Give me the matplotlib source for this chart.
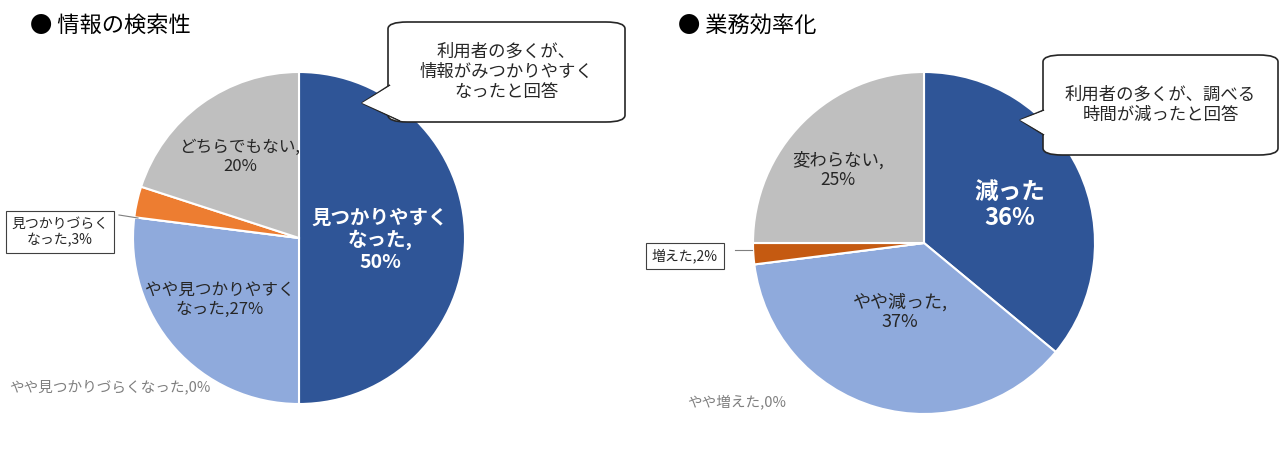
import matplotlib
matplotlib.use("Agg")
import matplotlib.pyplot as plt
from matplotlib.patches import Polygon, FancyBboxPatch

plt.rcParams["font.family"] = "Noto Sans CJK JP"

W, H = 1280, 457
left_labels = ["見つかりやすくなった", "やや見つかりやすくなった", "やや見つかりづらくなった", "見つかりづらくなった", "どちらでもない"]
left_values = [50, 27, 0, 3, 20]
right_labels = ["減った", "やや減った", "やや増えた", "増えた", "変わらない"]
right_values = [36, 37, 0, 2, 25]

left_colors = ["#2F5597", "#8FAADC", "#F4B183", "#ED7D31", "#BFBFBF"]
right_colors = ["#2F5597", "#8FAADC", "#F4B183", "#C55A11", "#BFBFBF"]

fig = plt.figure(figsize=(12.8, 4.57), dpi=100)

def px(x, y):
    return x / W, 1 - y / H

def pie_axes(cx, cy, r, vals, cols):
    ax = fig.add_axes([(cx - r) / W, (H - cy - r) / H, 2 * r / W, 2 * r / H])
    ax.pie(vals, colors=cols, startangle=90, counterclock=False,
           wedgeprops=dict(edgecolor="white", linewidth=1.5))
    ax.set_xlim(-1, 1); ax.set_ylim(-1, 1)
    ax.set_aspect("equal"); ax.axis("off")

pie_axes(299, 238, 166, left_values, left_colors)
pie_axes(924, 243, 171, right_values, right_colors)

def t(x, y, s, size=12, color="#262626", ha="center", weight="normal", **kw):
    fig.text(*px(x, y), s, fontsize=size, color=color, ha=ha, va="center",
             weight=weight, linespacing=1.15, **kw)

def callout(x0, y0, x1, y1, tail, text):
    box = FancyBboxPatch(px(x0, y1), (x1 - x0) / W, (y1 - y0) / H,
                         boxstyle="round,pad=0,rounding_size=0.015",
                         transform=fig.transFigure, fc="white", ec="#262626", lw=1.2)
    fig.add_artist(box)
    (a, b), tip, (c, d) = tail
    fig.add_artist(Polygon([px(a, b), px(*tip), px(c, d)], closed=False,
                           transform=fig.transFigure, fc="white", ec="#262626", lw=1.2, zorder=3))
    fig.add_artist(Polygon([px(a, b + 1), px(*tip), px(c, d - 1)], closed=True,
                           transform=fig.transFigure, fc="white", ec="none", zorder=3))
    t((x0 + x1) / 2, (y0 + y1) / 2, text, size=12.5, zorder=4)

# Left chart
t(30, 25, "● 情報の検索性", size=16, ha="left", color="#000000")
callout(388, 22, 625, 122, ((390, 85), (362, 103), (400, 121)),
        "利用者の多くが、\n情報がみつかりやすく\nなったと回答")
t(380, 240, "見つかりやすく\nなった,\n50%", size=14, color="white", weight="bold")
t(220, 300, "やや見つかりやすく\nなった,27%", size=12)
t(240, 157, "どちらでもない,\n20%", size=12)
fig.text(*px(60, 232), "見つかりづらく\nなった,3%", fontsize=10, ha="center", va="center",
         color="#262626", bbox=dict(boxstyle="square,pad=0.4", fc="white", ec="#404040", lw=0.8))
fig.add_artist(plt.Line2D([119/W, 138/W], [1-215/H, 1-218/H], color="#7F7F7F", lw=0.8))
t(110, 387, "やや見つかりづらくなった,0%", size=10.5, color="#7F7F7F")

# Right chart
t(678, 25, "● 業務効率化", size=16, ha="left", color="#000000")
callout(1043, 55, 1278, 155, ((1044, 110), (1020, 120), (1044, 135)),
        "利用者の多くが、調べる\n時間が減ったと回答")
t(1010, 205, "減った\n36%", size=17, color="white", weight="bold")
t(900, 312, "やや減った,\n37%", size=13)
t(838, 170, "変わらない,\n25%", size=12.5)
fig.text(*px(685, 256), "増えた,2%", fontsize=10, ha="center", va="center",
         color="#262626", bbox=dict(boxstyle="square,pad=0.4", fc="white", ec="#404040", lw=0.8))
fig.add_artist(plt.Line2D([735/W, 752/W], [1-250/H, 1-250/H], color="#7F7F7F", lw=0.8))
t(737, 402, "やや増えた,0%", size=10.5, color="#7F7F7F")

fig.savefig("out.png", dpi=100, facecolor="white")
